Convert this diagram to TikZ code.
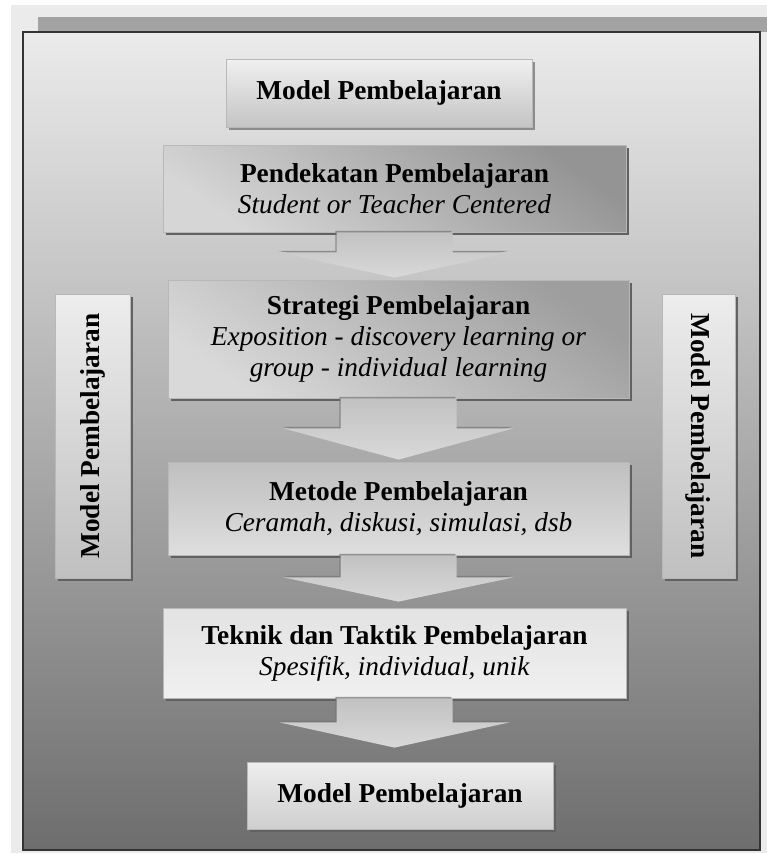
\documentclass[tikz,border=0pt]{standalone}
\usepackage{fontspec}
\setmainfont{Liberation Serif}
\usepackage{graphicx}
\usetikzlibrary{shadows,calc}
\definecolor{bgl}{HTML}{EBEBEB}
\definecolor{stripc}{HTML}{A3A3A3}
\definecolor{framec}{HTML}{333333}
\definecolor{edgec}{HTML}{B8B8B8}
\newcommand{\blockarr}[4]{%
  \shade[arrfill] let \p1=(#1.south), \p2=(#2.north) in
    (\x1-43.5pt,\y1) -- (\x1+43.5pt,\y1) -- (\x1+43.5pt,\y1-#3) -- (\x1+86.25pt,\y1-#3)
    -- (\x1,\y2+#4) -- (\x1-86.25pt,\y1-#3) -- (\x1-43.5pt,\y1-#3) -- cycle;}
\begin{document}
\begin{tikzpicture}[x=0.75pt,y=-0.75pt,
  txt/.style={font=\fontsize{20.5}{23.25}\selectfont, align=center, text=black},
  box/.style={txt, rectangle, draw=edgec, line width=0.6pt, inner sep=0pt,
    drop shadow={shadow xshift=2.25pt, shadow yshift=-2.25pt, fill=black!62, opacity=1}},
  lightbox/.style={box, top color=#1, bottom color=black!18},
  arrfill/.style={top color=black!24, bottom color=black!15,
    drop shadow={shadow xshift=-0.8pt, shadow yshift=1.2pt, fill=black!55, opacity=0.7}}
]
\useasboundingbox (0,0) rectangle (767,854);
\fill[white] (0,0) rectangle (767,854);
\fill[bgl] (11,5) rectangle (767,853);
\fill[stripc] (38,17) rectangle (767,32);
\shade[top color=bgl, middle color=black!30, bottom color=black!57] (23,32) rectangle (760,850);
\draw[framec, line width=1pt] (23,32) rectangle (760,850);

% boxes
\node[box, top color=black!6, bottom color=black!23,
  drop shadow={shadow xshift=2.25pt, shadow yshift=-2.25pt, fill=black!45, opacity=1},
  minimum width=229.5pt, minimum height=51pt] (m1) at (379,93) {\textbf{Model Pembelajaran}};

\node[box, top color=black!42, bottom color=black!16, shading angle=-35,
  minimum width=347.25pt, minimum height=65.25pt] (pend) at (394.5,188.5)
  {\textbf{Pendekatan Pembelajaran}\\\textit{Student or Teacher Centered}};

\node[box, top color=black!38, bottom color=black!15, shading angle=-35,
  minimum width=345.75pt, minimum height=88.5pt] (strat) at (398.5,339)
  {\textbf{Strategi Pembelajaran}\\\textit{Exposition - discovery learning or}\\\textit{group - individual learning}};

\node[box, top color=black!25, bottom color=black!13,
  minimum width=345.75pt, minimum height=69.75pt] (met) at (398.5,508.5)
  {\textbf{Metode Pembelajaran}\\\textit{Ceramah, diskusi, simulasi, dsb}};

\node[box, top color=black!11, bottom color=black!6,
  minimum width=347.25pt, minimum height=67.5pt] (tek) at (394.5,653)
  {\textbf{Teknik dan Taktik Pembelajaran}\\\textit{Spesifik, individual, unik}};

\node[box, top color=black!7, bottom color=black!19,
  minimum width=229.5pt, minimum height=50.25pt] (m2) at (400,795.5) {\textbf{Model Pembelajaran}};

\node[box, top color=black!7, bottom color=black!25,
  minimum width=56.25pt, minimum height=213pt] (ml) at (92.5,436)
  {\rotatebox{90}{\textbf{Model Pembelajaran}}};

\node[box, top color=black!7, bottom color=black!25,
  minimum width=54.75pt, minimum height=213pt] (mr) at (698.5,436)
  {\rotatebox{-90}{\textbf{Model Pembelajaran}}};

% block arrows
\blockarr{pend}{strat}{15pt}{1.5pt}
\blockarr{strat}{met}{22.5pt}{1.5pt}
\blockarr{met}{tek}{16.5pt}{4.5pt}
\blockarr{tek}{m2}{18pt}{10.5pt}
\end{tikzpicture}
\end{document}
